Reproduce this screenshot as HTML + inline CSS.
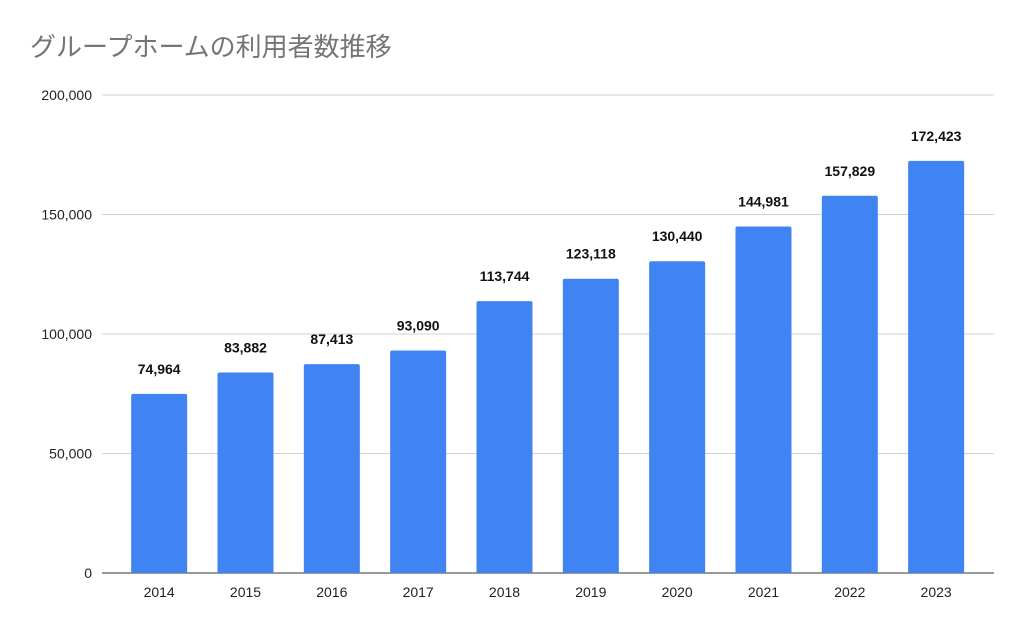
<!DOCTYPE html>
<html><head><meta charset="utf-8"><style>
html,body{margin:0;padding:0;background:#fff;}
svg{display:block;}
</style></head><body>
<svg id="chart" width="1026" height="632" xmlns="http://www.w3.org/2000/svg">
<text x="30" y="56" font-family="'Liberation Sans','Noto Sans CJK JP',sans-serif" font-size="26" fill="#757575">グループホームの利用者数推移</text>
<g id="grid"></g><g id="bars"></g><g id="labels"></g>
</svg>
<script>
const categories=["2014","2015","2016","2017","2018","2019","2020","2021","2022","2023"];
const values=[74964,83882,87413,93090,113744,123118,130440,144981,157829,172423];
const valueLabels=["74,964","83,882","87,413","93,090","113,744","123,118","130,440","144,981","157,829","172,423"];
const yTicks=[0,50000,100000,150000,200000];
const yTickLabels=["0","50,000","100,000","150,000","200,000"];
const NS="http://www.w3.org/2000/svg";
const y0=573,yTop=95,yMax=200000;
function yScale(v){return y0-(v/yMax)*(y0-yTop);}
const bandStart=116,band=86.33,barW=56;
function xCenter(i){return bandStart+band*(i+0.5);}
const font="'Liberation Sans',sans-serif";
const grid=document.getElementById('grid'),bars=document.getElementById('bars'),labels=document.getElementById('labels');
function mk(tag,attrs,parent){const e=document.createElementNS(NS,tag);for(const k in attrs)e.setAttribute(k,attrs[k]);parent.appendChild(e);return e;}
yTicks.forEach((t,i)=>{
  const y=yScale(t);
  const l=mk('line',{x1:102,x2:994,y1:y,y2:y,stroke:i===0?'#333':'#d0d0d0','stroke-width':1},grid);
  
  
  const tx=mk('text',{x:92,y:y+5,'text-anchor':'end','font-family':font,'font-size':14,fill:'#222'},grid);
  tx.textContent=yTickLabels[i];
  
  
});
categories.forEach((c,i)=>{
  const cx=xCenter(i),y=yScale(values[i]);
  const b=mk('path',{d:`M${cx-barW/2},${y0} V${y+2} Q${cx-barW/2},${y} ${cx-barW/2+2},${y} H${cx+barW/2-2} Q${cx+barW/2},${y} ${cx+barW/2},${y+2} V${y0} Z`,fill:'#4083f2'},bars);
  
  
  const v=mk('text',{x:cx,y:y-20,'text-anchor':'middle','font-family':font,'font-size':14,'font-weight':'bold',fill:'#111'},labels);
  v.textContent=valueLabels[i];
  
  
  const xl=mk('text',{x:cx,y:597,'text-anchor':'middle','font-family':font,'font-size':14,fill:'#222'},labels);
  xl.textContent=c;
  
  
});
</script>
</body></html>
